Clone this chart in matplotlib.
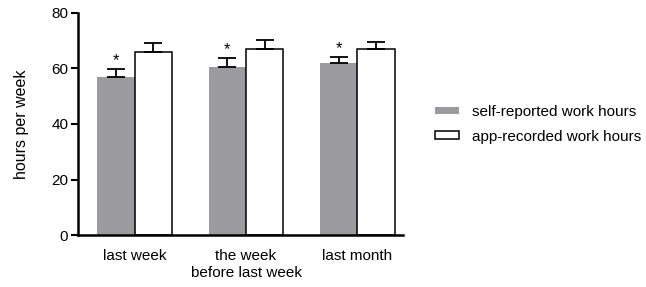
import numpy as np
import matplotlib.pyplot as plt

plt.rcParams['font.family'] = ['Liberation Sans', 'DejaVu Sans']

# data
periods = ['last week', 'the week\nbefore last week', 'last month']
self_reported = [56.8, 60.7, 62.0]
self_err = [2.9, 3.0, 2.0]
app_recorded = [66.1, 67.1, 67.1]
app_err = [3.2, 3.0, 2.4]

x = np.arange(len(periods))
w = 0.335

fig = plt.figure(figsize=(6.46, 2.87), dpi=100)
ax = fig.add_axes([0.1207, 0.181, 0.503, 0.774])

ax.bar(x - w / 2, self_reported, w, color='#9b9b9f', label='self-reported work hours',
       yerr=[np.zeros(3), self_err], capsize=6.5,
       error_kw=dict(elinewidth=1.3, capthick=1.3, ecolor='black'))
ax.bar(x + w / 2, app_recorded, w, color='white', edgecolor='black', linewidth=1.1,
       label='app-recorded work hours',
       yerr=[np.zeros(3), app_err], capsize=6.5,
       error_kw=dict(elinewidth=1.3, capthick=1.3, ecolor='black'))

# significance markers
for xi, v, e in zip(x, self_reported, self_err):
    ax.annotate('*', (xi - w / 2, v + e), xytext=(0, 1), textcoords='offset points',
                ha='center', va='bottom', fontsize=12)

ax.set_xlim(-0.51, 2.41)
ax.set_ylim(0, 80)
ax.set_yticks([0, 20, 40, 60, 80])
ax.set_xticks(x)
ax.set_xticklabels(periods, fontsize=11, linespacing=1.3)
ax.tick_params(axis='x', length=0, pad=10)
ax.tick_params(axis='y', length=5, width=1.5, labelsize=11, pad=2)
ax.set_ylabel('hours per week', fontsize=11.5, labelpad=16)

for s in ['top', 'right']:
    ax.spines[s].set_visible(False)
for s in ['left', 'bottom']:
    ax.spines[s].set_linewidth(1.8)

ax.legend(loc='center left', bbox_to_anchor=(1.098, 0.498), frameon=False,
          borderpad=0, borderaxespad=0,
          fontsize=11, handlelength=1.57, handleheight=0.4, handletextpad=0.85,
          labelspacing=0.7)

fig.savefig('out.png', dpi=100)
